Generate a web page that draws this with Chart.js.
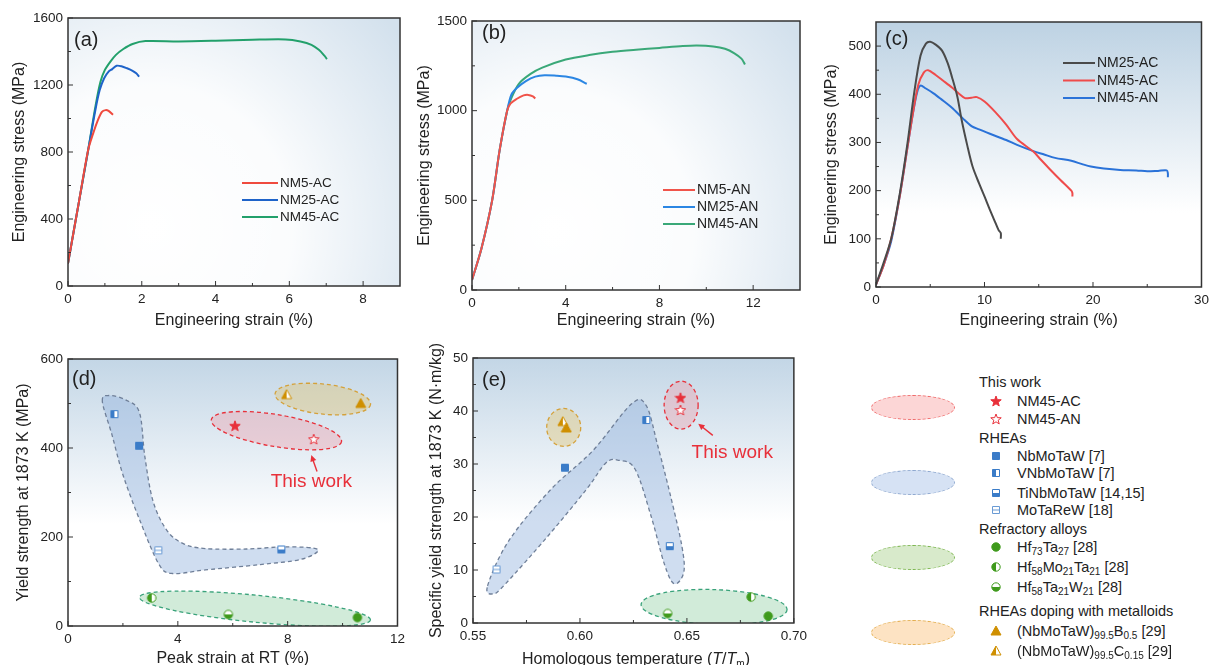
<!DOCTYPE html>
<html>
<head>
<meta charset="utf-8">
<script src="https://cdn.jsdelivr.net/npm/chart.js@4.4.1/dist/chart.umd.min.js"></script>
<style>
  body { margin:0; width:1214px; height:665px; overflow:hidden; position:relative; background:#fff; font-family:"Liberation Sans", Arial, sans-serif; color:#222; }
  .box { position:absolute; }
  .box canvas { display:block; }
  .xt { position:absolute; font-size:16px; line-height:19px; white-space:nowrap; transform:translateX(-50%); }
  .lg { position:absolute; font-size:14.5px; line-height:18px; white-space:nowrap; }
  .lg canvas { position:absolute; left:-27px; top:3px; }
  .oval { position:absolute; border:1.4px dashed; border-radius:50%; box-sizing:border-box; }
  sub { font-size:10px; vertical-align:-3px; line-height:0; }
</style>
</head>
<body>
<div class="box" style="left:0;top:0"><canvas id="ca" width="405" height="330"></canvas></div>
<div class="box" style="left:405px;top:0"><canvas id="cb" width="398" height="330"></canvas></div>
<div class="box" style="left:803px;top:0"><canvas id="cc" width="411" height="330"></canvas></div>
<div class="box" style="left:0;top:330px"><canvas id="cd" width="410" height="335"></canvas></div>
<div class="box" style="left:410px;top:330px"><canvas id="ce" width="402" height="335"></canvas></div>
<div class="xt" style="left:636px;top:649px">Homologous temperature (<i>T</i>/<i>T</i><sub>m</sub>)</div>
<div id="legend"></div>

<script>
// ---- data ----
// (a) as-cast tensile curves [strain %, stress MPa]
const aNM5 = [[0,135],[0.3,507],[0.55,816],[0.68,910],[0.8,985],[0.92,1040],[1.02,1050],[1.1,1045],[1.22,1022]];
const aNM25 = [[0,135],[0.3,507],[0.55,816],[0.75,1060],[0.86,1170],[0.98,1240],[1.1,1280],[1.2,1295],[1.32,1315],[1.45,1312],[1.6,1300],[1.75,1285],[1.85,1270],[1.93,1250]];
const aNM45 = [[0,135],[0.3,507],[0.55,816],[0.75,1080],[0.88,1220],[1.0,1290],[1.15,1340],[1.3,1380],[1.5,1415],[1.75,1445],[2.1,1462],[3,1460],[4,1464],[5,1470],[5.9,1472],[6.3,1460],[6.6,1440],[6.8,1410],[6.95,1375],[7.02,1355]];

// (b) annealed tensile curves
const bNM5 = [[0,56],[0.4,230],[0.86,500],[1.18,780],[1.5,1000],[1.65,1040],[1.9,1065],[2.2,1085],[2.4,1088],[2.6,1080],[2.7,1068]];
const bNM25 = [[0,56],[0.4,230],[0.86,500],[1.18,780],[1.5,1000],[1.68,1090],[1.9,1125],[2.3,1165],[2.7,1190],[3.1,1198],[3.6,1195],[4.0,1190],[4.5,1175],[4.9,1150]];
const bNM45 = [[0,56],[0.4,230],[0.86,500],[1.18,780],[1.5,1000],[1.68,1070],[2.0,1150],[2.5,1205],[3,1240],[4,1285],[5,1310],[6,1328],[7,1340],[8,1350],[9,1360],[9.6,1363],[10.3,1358],[10.8,1345],[11.2,1320],[11.5,1290],[11.65,1258]];

// (c) compression at 1873 K
const cNM25AC = [[0,5],[0.7,50],[1.4,100],[2.2,195],[2.9,298],[3.5,400],[4.1,480],[4.6,505],[5.0,509],[5.5,503],[6.1,490],[6.6,465],[7.0,436],[7.5,395],[7.9,346],[8.4,295],[8.9,250],[9.5,215],[10,188],[10.5,160],[10.9,139],[11.3,118],[11.5,112],[11.5,100]];
const cNM45AC = [[0,5],[0.7,45],[1.4,100],[2.2,190],[2.9,290],[3.4,360],[3.9,420],[4.4,445],[4.8,450],[5.5,440],[6.2,428],[7,414],[7.6,402],[8.2,392],[8.8,393],[9.3,394],[10,385],[11,363],[12,337],[13,307],[14.5,281],[15.2,264],[16,245],[17,222],[18,200],[18.1,195],[18.1,188]];
const cNM45AN = [[0,5],[0.7,45],[1.4,95],[2.2,190],[2.9,290],[3.4,360],[3.8,405],[4.1,418],[4.6,412],[5.3,402],[6,390],[7,372],[8,350],[8.8,334],[9.5,327],[10.5,318],[12,305],[13,295],[14.5,282],[15.5,275],[16.5,268],[18,262],[19,255],[19.8,250],[21,246],[22.5,243],[24,242],[25,240],[26,241],[26.8,242],[26.9,236],[26.9,228]];

// (d) yield strength vs peak strain
const dThisAC = [[6.08,450]], dThisAN = [[8.95,420]];
const dNbMoTaW = [[2.59,405]], dVNbMoTaW = [[1.69,476]], dTiNbMoTaW = [[7.77,172]], dMoTaReW = [[3.29,170]];
const dHf73Ta27 = [[10.54,19]], dHf58Mo21Ta21 = [[3.05,63]], dHf58Ta21W21 = [[5.84,26]];
const dB05 = [[10.66,500]], dC015 = [[7.96,520]];
const dRheaRegion = [[1.25,505],[1.5,518],[2.1,508],[2.6,480],[2.8,380],[3.1,280],[3.6,215],[4.2,185],[5,174],[6.5,173],[8,178],[9.1,172],[8.5,150],[7,138],[5,126],[3.8,118],[3.3,140],[2.6,240],[2.0,340],[1.6,430]];
const dOvalCenters = { red:[7.59,439], orange:[9.28,510], green:[6.81,39] };
const dNote = { at:[8.86,323], from:[9.07,347], to:[8.86,384] };

// (e) specific yield strength vs homologous temperature
const eThisAC = [[0.647,42.5]], eThisAN = [[0.647,40.2]];
const eNbMoTaW = [[0.593,29.3]], eVNbMoTaW = [[0.631,38.3]], eTiNbMoTaW = [[0.642,14.5]], eMoTaReW = [[0.561,10.1]];
const eHf73Ta27 = [[0.688,1.3]], eHf58Mo21Ta21 = [[0.68,4.9]], eHf58Ta21W21 = [[0.641,1.8]];
const eB05 = [[0.5936,36.8]], eC015 = [[0.592,38.0]];
const eRheaRegion = [[0.5568,7],[0.5667,15.5],[0.5864,25.2],[0.606,32.5],[0.624,41.3],[0.631,41],[0.6364,33.4],[0.6424,23.9],[0.6477,14.4],[0.6485,9.5],[0.644,7.4],[0.6394,11.2],[0.6333,20.1],[0.6258,29],[0.6182,30.7],[0.6121,30.2],[0.603,25.2],[0.5848,16.3],[0.5652,7.4],[0.5595,5.5]];
const eOvalCenters = { red:[0.6473,41.1], orange:[0.5924,36.9], green:[0.6627,3.0] };
const eNote = { at:[0.6712,32.1], from:[0.6621,35.4], to:[0.6553,37.6] };

const FONT = '"Liberation Sans", Arial, sans-serif';
Chart.defaults.font.family = FONT;
Chart.defaults.color = '#222';

const RED = '#e8303a', BLUE = '#3b7cc8', GREEN = '#3f9a1c', ORANGE = '#cf8f00';

// small marker images
function mk(shape, fill, color) {
  const s = 12, m = 6, r = 5.5;
  const c = document.createElement('canvas');
  c.width = s; c.height = s;
  const g = c.getContext('2d');
  g.strokeStyle = color; g.lineWidth = 1;
  const path = () => {
    g.beginPath();
    if (shape === 'star') {
      for (let i = 0; i < 10; i++) {
        const rr = i % 2 ? r * 0.42 : r, a = -Math.PI / 2 + i * Math.PI / 5;
        g.lineTo(m + rr * Math.cos(a), m + 0.5 + rr * Math.sin(a));
      }
      g.closePath();
    } else if (shape === 'square') g.rect(2.5, 2.5, 7, 7);
    else if (shape === 'circle') g.arc(m, m, 4.2, 0, Math.PI * 2);
    else { g.moveTo(m, 1); g.lineTo(11, 10); g.lineTo(1, 10); g.closePath(); }
  };
  path();
  if (fill === 'full') { g.fillStyle = color; g.fill(); }
  else {
    g.fillStyle = '#fff'; g.fill();
    g.save(); g.clip(); g.fillStyle = color;
    if (fill === 'left') g.fillRect(0, 0, m, s);
    if (fill === 'bottom') g.fillRect(0, m, s, s);
    if (fill === 'cross') { g.beginPath(); g.moveTo(0, m); g.lineTo(s, m); g.stroke(); }
    g.restore();
  }
  path(); g.stroke();
  return c;
}

const MARK = {
  thisAC: () => mk('star', 'full', RED), thisAN: () => mk('star', 'none', RED),
  nb: () => mk('square', 'full', BLUE), vnb: () => mk('square', 'left', BLUE),
  ti: () => mk('square', 'bottom', BLUE), mo: () => mk('square', 'cross', '#6a9bd4'),
  hf73: () => mk('circle', 'full', GREEN), hfmo: () => mk('circle', 'left', GREEN),
  hfw: () => mk('circle', 'bottom', GREEN),
  b05: () => mk('tri', 'full', ORANGE), c015: () => mk('tri', 'left', ORANGE)
};

function blob(ctx, P) {
  const n = P.length;
  ctx.beginPath(); ctx.moveTo(P[0][0], P[0][1]);
  for (let i = 0; i < n; i++) {
    const p0 = P[(i - 1 + n) % n], p1 = P[i], p2 = P[(i + 1) % n], p3 = P[(i + 2) % n];
    ctx.bezierCurveTo(p1[0] + (p2[0] - p0[0]) / 6, p1[1] + (p2[1] - p0[1]) / 6,
                      p2[0] - (p3[0] - p1[0]) / 6, p2[1] - (p3[1] - p1[1]) / 6, p2[0], p2[1]);
  }
  ctx.closePath();
}

// backgrounds, shaded groups, frame, inner ticks, panel label, legends, notes
const deco = {
  id: 'deco',
  beforeDraw(chart, args, o) {
    const { ctx, chartArea: a } = chart;
    ctx.save();
    if (o.bg === 'radial') {
      ctx.fillStyle = '#d3e1ed'; ctx.fillRect(a.left, a.top, a.width, a.height);
      const cx = a.left + a.width * 0.25, cy = a.top + a.height * 0.78;
      const g = ctx.createRadialGradient(cx, cy, 0, cx, cy, a.width * 0.95);
      g.addColorStop(0, '#ffffff'); g.addColorStop(0.45, 'rgba(255,255,255,0.9)'); g.addColorStop(1, 'rgba(255,255,255,0)');
      ctx.fillStyle = g; ctx.fillRect(a.left, a.top, a.width, a.height);
    } else {
      const g = ctx.createLinearGradient(0, a.top, 0, a.bottom);
      g.addColorStop(0, o.bgTop); g.addColorStop(o.bgStop, '#ffffff'); g.addColorStop(1, '#ffffff');
      ctx.fillStyle = g; ctx.fillRect(a.left, a.top, a.width, a.height);
    }
    ctx.restore();
  },
  beforeDatasetsDraw(chart, args, o) {
    const { ctx, chartArea: a, scales: { x, y } } = chart;
    ctx.save();
    ctx.beginPath(); ctx.rect(a.left, a.top, a.width, a.height); ctx.clip();
    ctx.lineWidth = 1.3; ctx.setLineDash([4, 3]);
    (o.regions || []).forEach(r => {
      blob(ctx, r.pts.map(p => [x.getPixelForValue(p[0]), y.getPixelForValue(p[1])]));
      ctx.fillStyle = r.fill; ctx.fill(); ctx.strokeStyle = r.stroke; ctx.stroke();
    });
    (o.ovals || []).forEach(e => {
      ctx.beginPath();
      ctx.ellipse(x.getPixelForValue(e.c[0]), y.getPixelForValue(e.c[1]), e.rx, e.ry, e.rot * Math.PI / 180, 0, Math.PI * 2);
      ctx.fillStyle = e.fill; ctx.fill(); ctx.strokeStyle = e.stroke; ctx.stroke();
    });
    ctx.restore();
  },
  afterDraw(chart, args, o) {
    const { ctx, chartArea: a, scales: { x, y } } = chart;
    ctx.save();
    ctx.strokeStyle = '#333'; ctx.lineWidth = 1;
    const tk = (sc, horiz) => {
      const vals = sc.ticks.map(t => t.value), step = vals[1] - vals[0];
      ctx.beginPath();
      vals.forEach(v => {
        const p = sc.getPixelForValue(v);
        if (horiz) { ctx.moveTo(p, a.bottom); ctx.lineTo(p, a.bottom - 5); }
        else { ctx.moveTo(a.left, p); ctx.lineTo(a.left + 5, p); }
        if (v + step / 2 < sc.max) {
          const q = sc.getPixelForValue(v + step / 2);
          if (horiz) { ctx.moveTo(q, a.bottom); ctx.lineTo(q, a.bottom - 3); }
          else { ctx.moveTo(a.left, q); ctx.lineTo(a.left + 3, q); }
        }
      });
      ctx.stroke();
    };
    tk(x, true); tk(y, false);
    ctx.lineWidth = 1.5; ctx.strokeRect(a.left, a.top, a.width, a.height);

    ctx.fillStyle = '#222'; ctx.font = '20px ' + FONT;
    ctx.textBaseline = 'middle'; ctx.textAlign = 'left';
    ctx.fillText(o.label, a.left + o.labelAt[0], a.top + o.labelAt[1]);

    if (o.legend) {
      const L = o.legend;
      ctx.font = L.size + 'px ' + FONT;
      chart.data.datasets.forEach((ds, i) => {
        const yy = a.top + L.y + i * L.dy, xx = a.left + L.x;
        ctx.strokeStyle = ds.borderColor; ctx.lineWidth = 2;
        ctx.beginPath(); ctx.moveTo(xx, yy); ctx.lineTo(xx + L.len, yy); ctx.stroke();
        ctx.fillStyle = '#222'; ctx.fillText(ds.label, xx + L.len + 2, yy + 0.5);
      });
    }
    if (o.note) {
      const n = o.note;
      ctx.fillStyle = RED; ctx.strokeStyle = RED; ctx.font = '19px ' + FONT; ctx.textAlign = 'center';
      ctx.fillText('This work', x.getPixelForValue(n.at[0]), y.getPixelForValue(n.at[1]));
      const x1 = x.getPixelForValue(n.from[0]), y1 = y.getPixelForValue(n.from[1]);
      const x2 = x.getPixelForValue(n.to[0]), y2 = y.getPixelForValue(n.to[1]);
      const ang = Math.atan2(y2 - y1, x2 - x1);
      ctx.lineWidth = 1.4;
      ctx.beginPath(); ctx.moveTo(x1, y1); ctx.lineTo(x2 - 4 * Math.cos(ang), y2 - 4 * Math.sin(ang)); ctx.stroke();
      ctx.beginPath(); ctx.moveTo(x2, y2);
      ctx.lineTo(x2 - 7 * Math.cos(ang - 0.45), y2 - 7 * Math.sin(ang - 0.45));
      ctx.lineTo(x2 - 7 * Math.cos(ang + 0.45), y2 - 7 * Math.sin(ang + 0.45));
      ctx.closePath(); ctx.fill();
    }
    ctx.restore();
  }
};
Chart.register(deco);

function axis(s, size, dir) {
  return {
    type: 'linear', min: s.min, max: s.max,
    grid: { display: false, drawTicks: false }, border: { display: false },
    ticks: { stepSize: s.step, includeBounds: false, padding: 5, font: { size: 13.5 }, color: '#222',
             maxRotation: 0, autoSkip: false, callback: s.fmt || (v => v) },
    title: { display: !!s.title, text: s.title, font: { size: 16 }, color: '#222',
             padding: { top: s.tp || 0, bottom: s.tp || 0 } },
    afterFit(sc) { if (dir === 'x') sc.height = size; else sc.width = size; },
    afterBuildTicks(sc) {
      sc.ticks = sc.ticks.filter(t => t.value >= s.min - 1e-9 && t.value <= s.max + 1e-9 &&
        Math.abs((t.value - s.min) / s.step - Math.round((t.value - s.min) / s.step)) < 1e-6);
    }
  };
}

function panel(id, box, plot, datasets, sx, sy, opts) {
  return new Chart(document.getElementById(id), {
    type: 'scatter',
    data: { datasets },
    options: {
      responsive: false, animation: false, events: [],
      layout: { padding: { top: plot.t - box.t, right: box.l + box.w - plot.r, left: 0, bottom: 0 } },
      plugins: { legend: { display: false }, tooltip: { enabled: false }, deco: opts },
      scales: { x: axis(sx, box.t + box.h - plot.b, 'x'), y: axis(sy, plot.l - box.l, 'y') }
    }
  });
}

const xy = pts => pts.map(p => ({ x: p[0], y: p[1] }));
const line = (label, pts, color) => ({ label, data: xy(pts), showLine: true, borderColor: color,
  borderWidth: 2, pointRadius: 0, tension: 0.3, fill: false });
const pt = (pts, img) => ({ data: xy(pts), pointStyle: img, pointRadius: 6, showLine: false });

// (a)
panel('ca', { l: 0, t: 0, w: 405, h: 330 }, { l: 68, t: 18, r: 400, b: 286 },
  [line('NM5-AC', aNM5, '#ef4a3e'), line('NM25-AC', aNM25, '#1e63c9'), line('NM45-AC', aNM45, '#22a06b')],
  { min: 0, max: 9, step: 2, title: 'Engineering strain (%)' },
  { min: 0, max: 1600, step: 400, title: 'Engineering stress (MPa)', tp: 10 },
  { label: '(a)', labelAt: [6, 22], bg: 'radial', legend: { x: 174, y: 165, dy: 17, len: 36, size: 13.5 } });

// (b)
panel('cb', { l: 405, t: 0, w: 398, h: 330 }, { l: 472, t: 21, r: 800, b: 290 },
  [line('NM5-AN', bNM5, '#f0544a'), line('NM25-AN', bNM25, '#2b86e3'), line('NM45-AN', bNM45, '#3aa878')],
  { min: 0, max: 14, step: 4, title: 'Engineering strain (%)' },
  { min: 0, max: 1500, step: 500, title: 'Engineering stress (MPa)', tp: 10 },
  { label: '(b)', labelAt: [10, 12], bg: 'radial', legend: { x: 191, y: 169, dy: 17, len: 32, size: 14 } });

// (c)
panel('cc', { l: 803, t: 0, w: 411, h: 330 }, { l: 876, t: 22, r: 1207, b: 287 },
  [line('NM25-AC', cNM25AC, '#4a4a4a'), line('NM45-AC', cNM45AC, '#ef4b4b'), line('NM45-AN', cNM45AN, '#2a72d8')],
  { min: 0, max: 30, step: 10, title: 'Engineering strain (%)' },
  { min: 0, max: 550, step: 100, title: 'Engineering stress (MPa)', tp: 19 },
  { label: '(c)', labelAt: [9, 17], bg: 'linear', bgTop: '#bdd2e3', bgStop: 0.72,
    legend: { x: 187, y: 41, dy: 17.5, len: 32, size: 14 } });

const OV = {
  red: { fill: 'rgba(240,150,160,0.35)', stroke: '#e8303a' },
  orange: { fill: 'rgba(225,195,110,0.4)', stroke: '#d4a13a' },
  green: { fill: 'rgba(140,205,160,0.4)', stroke: '#39a27a' },
  blue: { fill: 'rgba(140,175,220,0.42)', stroke: '#6f7f98' }
};

// (d)
panel('cd', { l: 0, t: 330, w: 410, h: 335 }, { l: 68, t: 359, r: 400, b: 626 },
  [pt(dThisAC, MARK.thisAC()), pt(dThisAN, MARK.thisAN()), pt(dNbMoTaW, MARK.nb()), pt(dVNbMoTaW, MARK.vnb()),
   pt(dTiNbMoTaW, MARK.ti()), pt(dMoTaReW, MARK.mo()), pt(dHf73Ta27, MARK.hf73()), pt(dHf58Mo21Ta21, MARK.hfmo()),
   pt(dHf58Ta21W21, MARK.hfw()), pt(dB05, MARK.b05()), pt(dC015, MARK.c015())],
  { min: 0, max: 12, step: 4, title: 'Peak strain at RT (%)', tp: -3 },
  { min: 0, max: 600, step: 200, title: 'Yield strength at 1873 K (MPa)', tp: 14 },
  { label: '(d)', labelAt: [4, 20], bg: 'linear', bgTop: '#c3d6e6', bgStop: 0.62,
    regions: [Object.assign({ pts: dRheaRegion }, OV.blue)],
    ovals: [Object.assign({ c: dOvalCenters.orange, rx: 48, ry: 15, rot: 6.3 }, OV.orange),
            Object.assign({ c: dOvalCenters.red, rx: 66, ry: 16, rot: 9.5 }, OV.red),
            Object.assign({ c: dOvalCenters.green, rx: 116, ry: 13.5, rot: 5.6 }, OV.green)],
    note: dNote });

// (e)
panel('ce', { l: 410, t: 330, w: 402, h: 335 }, { l: 473, t: 358, r: 798, b: 623 },
  [pt(eThisAC, MARK.thisAC()), pt(eThisAN, MARK.thisAN()), pt(eNbMoTaW, MARK.nb()), pt(eVNbMoTaW, MARK.vnb()),
   pt(eTiNbMoTaW, MARK.ti()), pt(eMoTaReW, MARK.mo()), pt(eHf73Ta27, MARK.hf73()), pt(eHf58Mo21Ta21, MARK.hfmo()),
   pt(eHf58Ta21W21, MARK.hfw()), pt(eB05, MARK.b05()), pt(eC015, MARK.c015())],
  { min: 0.55, max: 0.70, step: 0.05, fmt: v => v.toFixed(2) },
  { min: 0, max: 50, step: 10, title: 'Specific yield strength at 1873 K (N\u00b7m/kg)', tp: 17 },
  { label: '(e)', labelAt: [9, 22], bg: 'linear', bgTop: '#c3d6e6', bgStop: 0.62,
    regions: [Object.assign({ pts: eRheaRegion }, OV.blue)],
    ovals: [Object.assign({ c: eOvalCenters.orange, rx: 17, ry: 19, rot: 0 }, OV.orange),
            Object.assign({ c: eOvalCenters.red, rx: 17, ry: 24, rot: 0 }, OV.red),
            Object.assign({ c: eOvalCenters.green, rx: 73, ry: 17.5, rot: 2 }, OV.green)],
    note: eNote });

// right-hand legend panel
const legendRows = [
  ['This work', null, 382], ['NM45-AC', 'thisAC', 401], ['NM45-AN', 'thisAN', 419],
  ['RHEAs', null, 438], ['NbMoTaW [7]', 'nb', 456], ['VNbMoTaW [7]', 'vnb', 473],
  ['TiNbMoTaW [14,15]', 'ti', 493], ['MoTaReW [18]', 'mo', 510],
  ['Refractory alloys', null, 529], ['Hf<sub>73</sub>Ta<sub>27</sub> [28]', 'hf73', 547],
  ['Hf<sub>58</sub>Mo<sub>21</sub>Ta<sub>21</sub> [28]', 'hfmo', 567],
  ['Hf<sub>58</sub>Ta<sub>21</sub>W<sub>21</sub> [28]', 'hfw', 587],
  ['RHEAs doping with metalloids', null, 611],
  ['(NbMoTaW)<sub>99.5</sub>B<sub>0.5</sub> [29]', 'b05', 631],
  ['(NbMoTaW)<sub>99.5</sub>C<sub>0.15</sub> [29]', 'c015', 651]
];
const legendOvals = [
  [407, '#fcd6d6', '#ef6a6a'], [482, '#d6e2f4', '#8ea8cf'],
  [557, '#d8eacb', '#7db650'], [632, '#fde3c3', '#e3ae4e']
];
const lg = document.getElementById('legend');
legendOvals.forEach(([cy, fill, stroke]) => {
  const d = document.createElement('div');
  d.className = 'oval';
  d.style.cssText = `left:871px;top:${cy - 12.5}px;width:84px;height:25px;background:${fill};border-color:${stroke}`;
  lg.appendChild(d);
});
legendRows.forEach(([txt, mark, cy]) => {
  const d = document.createElement('div');
  d.className = 'lg';
  d.innerHTML = txt;
  d.style.left = (mark ? 1017 : 979) + 'px';
  d.style.top = (cy - 9) + 'px';
  if (mark) d.appendChild(MARK[mark]());
  lg.appendChild(d);
});
</script>
</body>
</html>
